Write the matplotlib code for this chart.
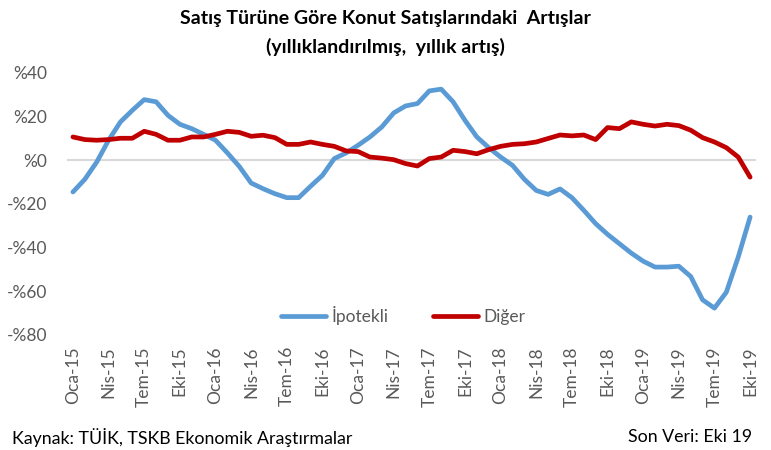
import numpy as np
import matplotlib
matplotlib.use("Agg")
import matplotlib.pyplot as plt

plt.rcParams['font.family'] = ['Lato', 'DejaVu Sans']

# aylar: Oca-15 .. Eki-19
months = ['Oca', 'Şub', 'Mar', 'Nis', 'May', 'Haz', 'Tem', 'Ağu', 'Eyl', 'Eki', 'Kas', 'Ara']
labels = [f"{m}-{y}" for y in range(15, 20) for m in months][:58]

ipotekli = [-14.5, -8.7, -0.8, 9.2, 17.6, 22.9, 27.8, 26.8, 20.6, 16.5, 14.5, 11.9,
            9.2, 3.4, -2.8, -10.4, -13.0, -15.3, -17.1, -17.1, -11.9, -6.9, 0.8, 3.4,
            6.9, 10.7, 15.3, 21.7, 24.9, 26.0, 31.8, 32.6, 26.8, 18.3, 10.7, 5.8,
            1.5, -2.3, -8.7, -13.8, -15.6, -13.1, -17.1, -22.9, -29.0, -33.9, -38.2, -42.5,
            -46.2, -48.9, -48.9, -48.5, -53.2, -63.9, -67.7, -60.4, -44.3, -26.0]

diger = [10.7, 9.5, 9.2, 9.5, 10.1, 10.1, 13.3, 11.9, 9.2, 9.2, 10.7, 10.7,
         11.9, 13.3, 12.8, 11.0, 11.5, 10.4, 7.3, 7.3, 8.4, 7.3, 6.4, 4.3,
         4.0, 1.5, 1.0, 0.3, -1.5, -2.6, 0.8, 1.5, 4.6, 4.0, 3.0, 4.9,
         6.4, 7.3, 7.6, 8.4, 10.0, 11.6, 11.2, 11.6, 9.5, 15.0, 14.5, 17.6,
         16.5, 15.7, 16.5, 15.9, 13.8, 10.4, 8.4, 5.8, 1.5, -7.7]

yticks = [40, 20, 0, -20, -40, -60, -80]
ytick_labels = ['%40', '%20', '%0', '-%20', '-%40', '-%60', '-%80']

fig = plt.figure(figsize=(7.71, 4.5), dpi=100)
ax = fig.add_axes([0.0869, 0.2556, 0.8937, 0.5822])

x = np.arange(len(labels))
ax.axhline(0, color='#D9D9D9', lw=1.5, zorder=1)
ax.plot(x, ipotekli, color='#5B9BD5', lw=3.4, label='İpotekli', solid_capstyle='round', zorder=3)
ax.plot(x, diger, color='#C00000', lw=3.4, label='Diğer', solid_capstyle='round', zorder=3)

ax.set_xlim(-0.5, len(labels) - 0.5)
ax.set_ylim(-80, 40)
ax.set_yticks(yticks)
ax.set_yticklabels(ytick_labels)
ax.set_xticks(x[::3])
ax.set_xticklabels(labels[::3], rotation=90)
ax.tick_params(axis='both', length=0, colors='#595959', labelsize=12.5)
ax.tick_params(axis='y', pad=14)
ax.tick_params(axis='x', pad=8)
for s in ax.spines.values():
    s.set_visible(False)

leg = ax.legend(loc='center', bbox_to_anchor=(0.523, 0.298), bbox_transform=fig.transFigure,
                ncol=2, frameon=False, fontsize=12.5, handlelength=2.6, columnspacing=2.6,
                handletextpad=0.3)
for t in leg.get_texts():
    t.set_color('#595959')

fig.text(0.5, 0.958, 'Satış Türüne Göre Konut Satışlarındaki  Artışlar', ha='center', va='center',
         fontsize=14, fontweight='bold', color='black')
fig.text(0.5, 0.895, '(yıllıklandırılmış,  yıllık artış)', ha='center', va='center',
         fontsize=14, fontweight='bold', color='black')

fig.text(0.016, 0.028, 'Kaynak: TÜİK, TSKB Ekonomik Araştırmalar', ha='left', va='center',
         fontsize=12.8, color='black')
fig.text(0.975, 0.028, 'Son Veri: Eki 19', ha='right', va='center', fontsize=12.8, color='black')

fig.savefig('out.png', dpi=100)
